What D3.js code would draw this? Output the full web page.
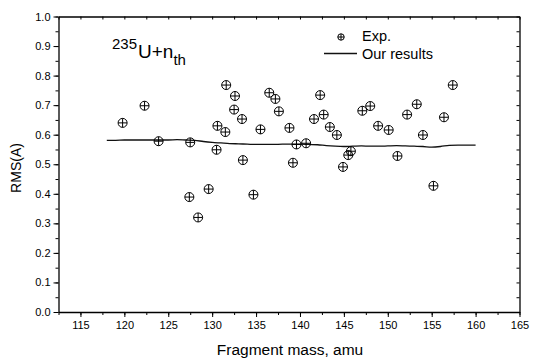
<!DOCTYPE html>
<html>
<head>
<meta charset="utf-8">
<script src="https://d3js.org/d3.v7.min.js"></script>
<style>
body { margin: 0; background: #fff; }
text { font-family: 'Liberation Sans', Arial, sans-serif; fill: #000; }
.axis path, .axis line { stroke: #000; }
.axis path { stroke-width: 1.3; }
.axis text { font-size: 11px; }
</style>
</head>
<body>
<script>
//hardcoded parameters
var svg_width = 533;
var svg_height = 363;
var graph_left = 58.5;
var graph_right = 519.5;
var graph_top = 16.5;
var graph_bottom = 312;

//data
var exp_mass = [119.8, 122.3, 123.9, 127.4, 127.5, 128.4, 129.6, 130.5, 130.6, 131.5,
    131.6, 132.5, 132.6, 133.4, 133.5, 134.7, 135.5, 136.5, 137.2, 137.6,
    138.8, 139.2, 139.6, 140.7, 141.6, 142.3, 142.7, 143.4, 144.2, 144.9,
    145.5, 145.8, 147.1, 148.0, 148.9, 150.1, 151.1, 152.2, 153.3, 154.0,
    155.2, 156.4, 157.4];
var exp_rms = [0.640, 0.698, 0.578, 0.389, 0.574, 0.320, 0.416, 0.549, 0.630, 0.609,
    0.768, 0.685, 0.731, 0.653, 0.514, 0.397, 0.618, 0.742, 0.721, 0.679,
    0.623, 0.505, 0.567, 0.571, 0.653, 0.734, 0.668, 0.626, 0.599, 0.491,
    0.531, 0.544, 0.681, 0.697, 0.630, 0.616, 0.528, 0.668, 0.703, 0.599,
    0.427, 0.659, 0.768];
var calc_mass = [118, 119, 120, 121, 122, 123, 124, 125, 126, 127, 128, 129, 130, 131,
    132, 133, 134, 135, 136, 137, 138, 139, 140, 141, 142, 143, 144, 145, 146,
    147, 148, 149, 150, 151, 152, 153, 154, 155, 156, 157, 158, 159, 160];
var calc_rms = [0.581, 0.581, 0.582, 0.582, 0.582, 0.582, 0.582, 0.582, 0.583, 0.582,
    0.581, 0.577, 0.574, 0.572, 0.570, 0.569, 0.568, 0.567, 0.567, 0.567,
    0.568, 0.568, 0.568, 0.567, 0.566, 0.563, 0.561, 0.560, 0.561, 0.562,
    0.561, 0.561, 0.562, 0.563, 0.562, 0.561, 0.560, 0.558, 0.560, 0.564,
    0.565, 0.565, 0.565];
var x_ticks = [115, 120, 125, 130, 135, 140, 145, 150, 155, 160, 165];
var y_ticks = [0.0, 0.1, 0.2, 0.3, 0.4, 0.5, 0.6, 0.7, 0.8, 0.9, 1.0];
var legend_labels = ['Exp.', 'Our results'];

var svg = d3.select('body').append('svg')
    .attr('width', svg_width)
    .attr('height', svg_height);

//scales
var scale_x = d3.scaleLinear().domain([112.5, 165]).range([graph_left, graph_right]);
var scale_y = d3.scaleLinear().domain([0, 1]).range([graph_bottom, graph_top]);

var minor_x = d3.range(112.5, 165.1, 2.5);
var minor_y = d3.range(0, 1.001, 0.05);

//minor ticks first, majors on top
svg.append('g').attr('class', 'axis')
    .attr('transform', 'translate(0,' + graph_bottom + ')')
    .call(d3.axisBottom(scale_x).tickValues(minor_x).tickSize(3).tickFormat(''))
    .select('.domain').remove();
svg.append('g').attr('class', 'axis')
    .attr('transform', 'translate(' + graph_left + ',0)')
    .call(d3.axisLeft(scale_y).tickValues(minor_y).tickSize(3).tickFormat(''))
    .select('.domain').remove();
svg.append('g').attr('class', 'axis')
    .attr('transform', 'translate(0,' + graph_top + ')')
    .call(d3.axisBottom(scale_x).tickValues(minor_x).tickSizeInner(3).tickSizeOuter(0).tickFormat(''));
svg.append('g').attr('class', 'axis')
    .attr('transform', 'translate(' + graph_right + ',0)')
    .call(d3.axisLeft(scale_y).tickValues(minor_y).tickSizeInner(3).tickSizeOuter(0).tickFormat(''));

//major axes
var axis_x = svg.append('g').attr('class', 'axis')
    .attr('transform', 'translate(0,' + graph_bottom + ')')
    .call(d3.axisBottom(scale_x).tickValues(x_ticks).tickSizeInner(5).tickSizeOuter(0).tickPadding(4));
var axis_y = svg.append('g').attr('class', 'axis')
    .attr('transform', 'translate(' + graph_left + ',0)')
    .call(d3.axisLeft(scale_y).tickValues(y_ticks).tickSizeInner(5).tickSizeOuter(0)
        .tickPadding(3).tickFormat(d3.format('.1f')));

//axis titles
svg.append('text')
    .attr('x', 290).attr('y', 355)
    .attr('text-anchor', 'middle')
    .style('font-size', '15.5px')
    .text('Fragment mass, amu');
svg.append('text')
    .attr('transform', 'translate(21,168) rotate(-90)')
    .attr('text-anchor', 'middle')
    .style('font-size', '14px')
    .text('RMS(A)');

//reaction label
var label = svg.append('text').attr('x', 112).attr('y', 58).style('font-size', '19px');
label.append('tspan').attr('dy', -9).style('font-size', '15px').text('235');
label.append('tspan').attr('dy', 9).attr('dx', 1).text('U+n');
label.append('tspan').attr('dy', 7).style('font-size', '15px').text('th');

//calculated line
var line = d3.line()
    .x(function(d, i) { return scale_x(calc_mass[i]); })
    .y(function(d) { return scale_y(d); })
    .curve(d3.curveMonotoneX);
svg.append('path')
    .attr('d', line(calc_rms))
    .attr('fill', 'none')
    .attr('stroke', '#111')
    .attr('stroke-width', 1.3);

//experimental points
function marker(g, r) {
    g.append('circle').attr('r', r).attr('fill', 'none').attr('stroke', '#000').attr('stroke-width', 1);
    g.append('line').attr('x1', -r).attr('x2', r).attr('stroke', '#000').attr('stroke-width', 1);
    g.append('line').attr('y1', -r).attr('y2', r).attr('stroke', '#000').attr('stroke-width', 1);
}
svg.append('g').attr('id', 'points').selectAll('g')
    .data(exp_rms)
    .enter().append('g')
    .attr('transform', function(d, i) {
        return 'translate(' + scale_x(exp_mass[i]) + ',' + scale_y(d) + ')';
    })
    .each(function() { marker(d3.select(this), 4.5); });

//legend
var key = svg.append('g').attr('id', 'key');
marker(key.append('g').attr('transform', 'translate(341,37)'), 3.2);
key.append('line')
    .attr('x1', 324).attr('x2', 357).attr('y1', 53.5).attr('y2', 53.5)
    .attr('stroke', '#111').attr('stroke-width', 1.3);
key.append('text').attr('x', 362).attr('y', 41).style('font-size', '14.5px').text(legend_labels[0]);
key.append('text').attr('x', 362).attr('y', 58.5).style('font-size', '14.5px').text(legend_labels[1]);
</script>
</body>
</html>
